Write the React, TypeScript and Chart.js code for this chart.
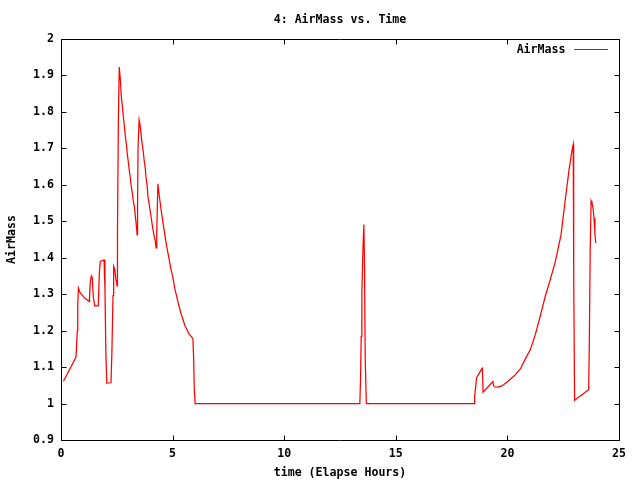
import React, { useEffect, useRef } from "react";
import { Chart, registerables } from "chart.js";

Chart.register(...registerables);

const chartTitle = "4: AirMass vs. Time";
const seriesLabel = "AirMass";
const xAxisTitle = "time (Elapse Hours)";
const yAxisTitle = "AirMass";

const xTickValues = [0, 5, 10, 15, 20, 25];
const yTickValues = [0.9, 1, 1.1, 1.2, 1.3, 1.4, 1.5, 1.6, 1.7, 1.8, 1.9, 2];

const timeHours = [
  0.11, 0.67, 0.73, 0.75, 0.78, 0.85, 1.05, 1.27, 1.31, 1.36, 1.40, 1.45, 1.51, 1.67, 1.72, 1.76, 1.93, 1.97, 2.01, 2.05, 2.24, 2.28, 2.33, 2.36, 2.41, 2.46, 2.49, 2.51, 2.53, 2.57, 2.61,
  2.66, 2.70, 2.75, 2.79, 2.84, 2.88, 2.93, 2.97, 3.02, 3.06, 3.11, 3.15, 3.20, 3.24, 3.29, 3.33, 3.38, 3.41, 3.43, 3.45, 3.50, 3.54, 3.59, 3.63, 3.68, 3.72, 3.77, 3.81, 3.86, 3.90, 3.95, 3.99, 4.04, 4.08, 4.13, 4.17, 4.22, 4.26, 4.29, 4.34, 4.43, 4.51, 4.60, 4.74, 4.83, 4.92, 5.01, 5.10, 5.19, 5.28, 5.38, 5.46, 5.55, 5.64, 5.73, 5.82, 5.91, 5.94, 5.97, 6.01,
  13.36, 13.39, 13.42, 13.45, 13.48, 13.53, 13.57, 13.60, 13.63, 13.68,
  18.52, 18.53, 18.58, 18.62, 18.85, 18.88, 18.91, 18.95, 19.35, 19.40, 19.59, 19.77, 20.04, 20.31, 20.58, 20.85, 21.03, 21.25, 21.47, 21.70, 21.92, 22.15, 22.40, 22.58, 22.77, 22.91, 22.95, 22.97, 23.01, 23.64, 23.67, 23.71, 23.75, 23.79, 23.84, 23.88, 23.92, 23.96,
];

const airMass = [
  1.061, 1.127, 1.20, 1.269, 1.317, 1.305, 1.29, 1.28, 1.333, 1.35, 1.345, 1.292, 1.268, 1.268, 1.36, 1.39, 1.394, 1.31, 1.141, 1.056, 1.057, 1.14, 1.296, 1.376, 1.367, 1.339, 1.335, 1.323, 1.472, 1.772, 1.923,
  1.888, 1.843, 1.815, 1.788, 1.76, 1.735, 1.71, 1.685, 1.66, 1.64, 1.616, 1.595, 1.575, 1.555, 1.539, 1.514, 1.486, 1.463, 1.541, 1.699, 1.778, 1.765, 1.738, 1.715, 1.694, 1.67, 1.648, 1.62, 1.598, 1.565, 1.548, 1.53, 1.511, 1.493, 1.475, 1.46, 1.447, 1.427, 1.47, 1.603, 1.557, 1.52, 1.484, 1.429, 1.401, 1.37, 1.347, 1.315, 1.292, 1.269, 1.246, 1.232, 1.214, 1.203, 1.192, 1.185, 1.178, 1.13, 1.04, 1.0,
  1.0, 1.003, 1.065, 1.184, 1.305, 1.429, 1.491, 1.37, 1.123, 1.0,
  1.0, 1.018, 1.047, 1.071, 1.095, 1.097, 1.031, 1.031, 1.060, 1.046, 1.045, 1.049, 1.062, 1.076, 1.095, 1.128, 1.148, 1.189, 1.240, 1.295, 1.34, 1.39, 1.462, 1.553, 1.645, 1.70, 1.711, 1.36, 1.009, 1.038, 1.168, 1.424, 1.556, 1.55, 1.535, 1.508, 1.466, 1.44,
];

const FONT_FAMILY = "'DejaVu Sans Mono', 'Liberation Mono', monospace";
const FONT_SIZE = 11.6;
const LINE_COLOR = "#ff0000";

const framePlugin = {
  id: "gnuplotFrame",
  afterDraw(chart: any) {
    const { ctx, chartArea } = chart;
    const l = Math.round(chartArea.left) + 0.5;
    const r = Math.round(chartArea.right) + 0.5;
    const t = Math.round(chartArea.top) + 0.5;
    const b = Math.round(chartArea.bottom) + 0.5;
    const tick = 5;
    ctx.save();
    ctx.strokeStyle = "#000000";
    ctx.lineWidth = 1;
    ctx.beginPath();
    ctx.rect(l, t, r - l, b - t);
    const xs = chart.scales.x;
    const ys = chart.scales.y;
    xTickValues.forEach((v) => {
      const px = Math.round(xs.getPixelForValue(v)) + 0.5;
      ctx.moveTo(px, b);
      ctx.lineTo(px, b - tick);
      ctx.moveTo(px, t);
      ctx.lineTo(px, t + tick);
    });
    yTickValues.forEach((v) => {
      const py = Math.round(ys.getPixelForValue(v)) + 0.5;
      ctx.moveTo(l, py);
      ctx.lineTo(l + tick, py);
      ctx.moveTo(r, py);
      ctx.lineTo(r - tick, py);
    });
    ctx.stroke();

    ctx.font = `bold ${FONT_SIZE}px ${FONT_FAMILY}`;
    ctx.fillStyle = "#000000";
    ctx.textBaseline = "middle";

    // title centred over the plot area
    ctx.textAlign = "center";
    ctx.fillText(chartTitle, (chartArea.left + chartArea.right) / 2, 19.5);

    // legend (inside plot, top-right, gnuplot style)
    ctx.textAlign = "right";
    const ly = t + 10;
    ctx.fillText(seriesLabel, r - 54, ly);
    ctx.fillStyle = LINE_COLOR;
    ctx.fillRect(Math.round(r - 46), Math.round(ly) - 1, 34, 1);
    ctx.restore();
  },
};

export default function App() {
  const canvasRef = useRef<HTMLCanvasElement | null>(null);

  useEffect(() => {
    document.body.style.margin = "0";
    const canvas = canvasRef.current;
    if (!canvas) return;
    const points = timeHours.map((t, i) => ({ x: t, y: airMass[i] }));
    const font = { family: FONT_FAMILY, size: FONT_SIZE, weight: "bold" as const };
    const chart = new Chart(canvas, {
      type: "scatter",
      data: {
        datasets: [
          {
            label: seriesLabel,
            data: points,
            showLine: true,
            borderColor: LINE_COLOR,
            backgroundColor: LINE_COLOR,
            borderWidth: 1.25,
            pointRadius: 0,
            pointHoverRadius: 0,
            tension: 0,
          },
        ],
      },
      options: {
        responsive: false,
        animation: false,
        layout: { padding: { left: 0, right: 21, top: 39, bottom: 0 } },
        plugins: {
          legend: { display: false },
          tooltip: { enabled: false },
          title: { display: false },
        },
        scales: {
          x: {
            type: "linear",
            min: 0,
            max: 25,
            grid: { display: false, drawTicks: false },
            border: { display: false },
            afterBuildTicks: (scale: any) => {
              scale.ticks = xTickValues.map((v) => ({ value: v }));
            },
            afterFit: (scale: any) => {
              scale.height = 40;
            },
            ticks: {
              color: "#000000",
              font,
              padding: 7,
              maxRotation: 0,
              autoSkip: false,
              callback: (v: any) => String(v),
            },
            title: {
              display: true,
              text: xAxisTitle,
              color: "#000000",
              font,
              padding: { top: 0, bottom: 0 },
            },
          },
          y: {
            type: "linear",
            min: 0.9,
            max: 2,
            grid: { display: false, drawTicks: false },
            border: { display: false },
            afterBuildTicks: (scale: any) => {
              scale.ticks = yTickValues.map((v) => ({ value: v }));
            },
            afterFit: (scale: any) => {
              scale.width = 61;
            },
            ticks: {
              color: "#000000",
              font,
              padding: 7,
              autoSkip: false,
              callback: (v: any) => String(Number(Number(v).toFixed(1))),
            },
            title: {
              display: true,
              text: yAxisTitle,
              color: "#000000",
              font,
              padding: { top: 5.5, bottom: 0 },
            },
          },
        },
      },
      plugins: [framePlugin],
    });
    return () => chart.destroy();
  }, []);

  return (
    <div style={{ position: "fixed", left: 0, top: 0, width: 640, height: 480, background: "#ffffff" }}>
      <canvas ref={canvasRef} width={640} height={480} style={{ width: 640, height: 480 }} />
    </div>
  );
}
